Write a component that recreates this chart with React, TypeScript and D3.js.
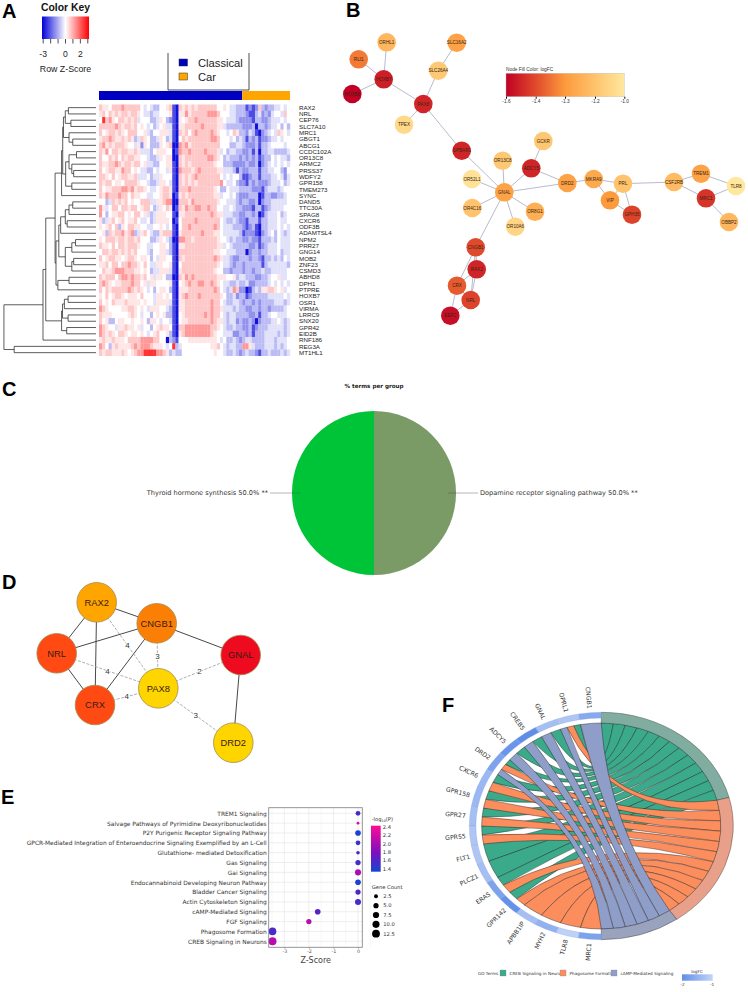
import { useEffect, useRef } from "react";
import * as d3 from "d3";

// Panel A: heatmap rows, one digit per sample, digit indexes heatLevels
const heatRows = [
  "RAX2", "NRL", "CEP76", "SLC7A10", "MRC1", "GBGT1", "ABCG1", "CCDC102A", "OR13C8", "ARMC2",
  "PRSS37", "WDFY2", "GPR158", "TMEM273", "SYNC", "DAND5", "TTC30A", "SPAG8", "CXCR6", "ODF3B",
  "ADAMTSL4", "NPM2", "PRR27", "GNG14", "MOB2", "ZNF23", "CSMD3", "ABHD8", "DPH1", "PTPRE",
  "HOXB7", "OSR1", "VIRMA", "LRRC9", "SNX20", "GPR42", "EID2B", "RNF186", "REG3A", "MT1HL1",
];
const heatLevels = [-2.8, -2.1, -1.3, -0.8, -0.35, 0, 0.3, 0.65, 1.2, 2.4];
const heatValues = [
  "76657 77877 77754 54335 56710 76767 67777 77556 54433 31212 73233 44545",
  "67576 76776 77654 43445 55610 66867 77778 88755 54433 32113 42324 55475",
  "59786 57767 67455 53346 53210 65677 87777 77665 44432 22213 32234 44545",
  "77777 87677 67565 45345 64410 66777 77877 77664 33333 22230 33234 45353",
  "75677 67657 77556 43556 66410 76757 87777 87655 45763 32431 02345 47654",
  "67787 66767 63476 53346 53410 57677 77777 88755 54534 31323 12234 45455",
  "78676 77765 54626 53336 56700 87867 77777 77755 53344 32223 13345 55545",
  "76857 76776 67644 43566 65501 87787 77787 77645 34433 22313 03344 33334",
  "75576 75767 76655 43346 56600 76777 77778 87653 43332 32323 12335 45443",
  "76677 87677 67756 44335 56610 76767 77777 76553 33222 23223 02345 45454",
  "75677 66877 56544 33545 54610 87776 78777 77664 44313 22333 13344 55325",
  "77657 56776 67444 53446 55510 76767 87777 77754 54553 11233 13334 45424",
  "76775 66577 77655 43346 65410 76767 67777 77785 44532 21323 22234 44534",
  "75667 77887 86776 54456 77610 77787 77777 76533 54443 33322 21344 43455",
  "76877 78775 76655 44556 77601 67677 77777 76645 54532 22333 01332 23345",
  "55347 67675 65577 74466 78800 77768 77777 77655 44432 33223 02334 44445",
  "86457 75776 77567 75346 57601 76877 88778 77554 45433 22213 31234 44455",
  "85356 67756 57756 43466 65510 66777 77777 87664 44332 23323 01344 45345",
  "63467 56756 67544 53466 66501 57777 87777 77754 33432 21333 13344 45445",
  "65675 73657 76655 44556 54510 57787 77777 78754 44333 21231 03344 45454",
  "56376 77867 83467 54336 77710 67777 77877 76654 44443 12221 02345 35434",
  "65777 67767 76755 53346 54300 88776 77777 77655 43433 22322 13334 35444",
  "76657 57767 77655 44556 65310 66777 77777 77664 54333 33223 12344 45444",
  "57767 76767 67555 43556 64310 77777 77777 76655 44433 30233 23344 45344",
  "75677 66567 76566 53546 65510 76777 77777 78764 43223 33233 21334 34354",
  "66757 75778 77657 54466 55610 57777 77777 77654 43233 23333 31344 44443",
  "57667 88877 76656 53446 66410 67777 77777 76553 32333 23323 34334 44445",
  "76777 57887 87767 56466 53300 76878 77777 77666 55634 43332 23345 56445",
  "78765 66777 87756 46655 55610 56787 78877 87654 43343 34223 33345 45454",
  "75767 77778 76765 45356 65310 66677 77777 78754 34872 20134 36677 65645",
  "65756 77656 66575 55466 56510 67877 78777 77765 33423 31233 33344 44454",
  "75657 66676 66656 55466 66410 66777 77777 87754 33443 23323 23333 44434",
  "87655 55667 76565 46665 54310 66777 77777 87764 44343 32233 23323 33345",
  "76665 55556 76545 53565 63310 56777 77787 87754 34433 33223 13345 54445",
  "75633 56655 65565 36654 55410 56677 77777 87664 34423 22320 23334 45434",
  "87655 46676 65645 53567 66510 77888 88888 77654 33433 22312 33344 44434",
  "87676 57765 66565 45675 56310 67888 88888 76554 44223 32313 33444 43434",
  "67667 66657 77788 88775 50321 55566 66666 66545 33432 34433 33444 34445",
  "87536 76666 78788 87666 54593 45555 55555 66754 34433 88643 33444 34345",
  "76776 66765 67889 99988 76343 35555 55555 56554 33432 34332 13343 33434",
];
const classicalSamples = 45;
const carSamples = 15;

// dendrogram: [height, left, right], leaves are row names
type Tree = string | [number, Tree, Tree];
const rowTree: Tree = [0.99,
  [0.57,
    [0.54,
      [0.44,
        [0.37,
          [0.358,
            [0.35,
              [0.33, [0.297, "RAX2", "NRL"], [0.27, "CEP76", "SLC7A10"]],
              [0.29, "MRC1", [0.25, "GBGT1", "ABCG1"]]],
            [0.326,
              [0.29, [0.21, "CCDC102A", "OR13C8"], [0.26, "ARMC2", [0.24, "PRSS37", "WDFY2"]]],
              [0.26, "GPR158", "TMEM273"]]],
          "SYNC"],
        [0.43,
          [0.4,
            [0.38, [0.33, [0.29, [0.25, "DAND5", "TTC30A"], "SPAG8"], [0.31, "CXCR6", "ODF3B"]], "ADAMTSL4"],
            [0.33, [0.26, [0.22, "NPM2", "PRR27"], "GNG14"], [0.26, [0.24, "MOB2", "ZNF23"], "CSMD3"]]],
          [0.41, [0.29, "ABHD8", "DPH1"], "PTPRE"]]],
      [0.37,
        [0.36, [0.34, [0.3, "HOXB7", "OSR1"], "VIRMA"], [0.3, "LRRC9", "SNX20"]],
        [0.315, "GPR42", "EID2B"]]],
    "RNF186"],
  [0.88, "REG3A", "MT1HL1"]];

// Panel B: network, layout units
const bNames = [
  "ORHL1", "RLI1", "HOXB7", "HOXB6", "SLC16A2", "SLC26A4", "PAX8", "TPEX", "GPBAR1", "GCKR", "OR13C8",
  "ADCY5", "OR52L1", "GNAL", "DRD2", "MKRA9", "PRL", "VIP", "GPH35", "CSF2RB", "TREM1", "MRC1", "TLR8",
  "OBBP2", "OR4C16", "OR8G1", "OR10A6", "CNGB1", "RAX2", "CRX", "NRL", "EEFC",
];
const bX = [41.7, 13.7, 38.7, 7.3, 111.7, 93.3, 78.3, 59, 116.7, 198.3, 157.7, 186.3, 127, 159.3, 222.3, 248.7, 278, 265, 287, 329, 356, 361, 391, 384, 127.3, 190, 170.3, 130.7, 131.7, 112, 125.7, 105.3];
const bY = [17.3, 34.3, 54.3, 69, 17.7, 45.7, 79, 99.7, 125.7, 116, 135.7, 143.3, 154, 167.3, 158, 154, 158.7, 175.3, 189.7, 157, 148.7, 173.3, 161, 197, 183, 186.7, 201.7, 222.3, 244.3, 260.7, 275, 290.7];
const bLogFC = [-1.23, -1.34, -1.52, -1.6, -1.28, -1.17, -1.5, -1.08, -1.5, -1.18, -1.18, -1.5, -1.03, -1.28, -1.28, -1.26, -1.2, -1.3, -1.42, -1.22, -1.28, -1.46, -1.0, -1.23, -1.2, -1.25, -1.1, -1.4, -1.5, -1.38, -1.42, -1.56];
const bEdges = [
  ["RLI1", "HOXB7"], ["ORHL1", "HOXB7"], ["HOXB6", "HOXB7"], ["HOXB7", "PAX8"], ["SLC16A2", "SLC26A4"], ["SLC26A4", "PAX8"],
  ["TPEX", "PAX8"], ["PAX8", "GPBAR1"], ["GPBAR1", "GNAL"], ["OR13C8", "GNAL"], ["OR52L1", "GNAL"], ["OR4C16", "GNAL"],
  ["OR8G1", "GNAL"], ["OR10A6", "GNAL"], ["ADCY5", "GNAL"], ["GCKR", "ADCY5"], ["ADCY5", "DRD2"], ["GNAL", "DRD2"],
  ["DRD2", "MKRA9"], ["MKRA9", "PRL"], ["MKRA9", "VIP"], ["PRL", "VIP"], ["PRL", "GPH35"], ["VIP", "GPH35"], ["PRL", "CSF2RB"],
  ["CSF2RB", "TREM1"], ["CSF2RB", "MRC1"], ["TREM1", "TLR8"], ["MRC1", "TLR8"], ["MRC1", "OBBP2"], ["GNAL", "CNGB1"],
  ["CNGB1", "RAX2"], ["CNGB1", "CRX"], ["CNGB1", "NRL"], ["RAX2", "CRX"], ["RAX2", "NRL"], ["CRX", "NRL"], ["CRX", "EEFC"], ["NRL", "EEFC"],
];
const bLegendTicks = [-1.6, -1.4, -1.3, -1.2, -1.0];
const bLegendColors = ["#c00024", "#e04a2c", "#fd9a3c", "#fec36c", "#ffe89e"];

// Panel C
const pieLabels = ["Dopamine receptor signaling pathway 50.0% **", "Thyroid hormone synthesis 50.0% **"];
const pieValues = [50, 50];
const pieColors = ["#7a9a66", "#00c437"];

// Panel D
const dNames = ["RAX2", "CNGB1", "GNAL", "NRL", "PAX8", "CRX", "DRD2"];
const dX = [56.7, 116.7, 200.7, 16.7, 118.3, 55, 193.3];
const dY = [12.3, 33.3, 65, 63.3, 98.3, 115, 152.7];
const dColors = ["#ffa500", "#fb7f05", "#ee0a1f", "#ff4a14", "#ffd500", "#ff4a14", "#ffd500"];
const dSolid = [
  ["RAX2", "NRL"], ["RAX2", "CNGB1"], ["RAX2", "CRX"], ["NRL", "CNGB1"], ["NRL", "CRX"], ["CNGB1", "CRX"], ["CNGB1", "GNAL"], ["GNAL", "DRD2"],
];
const dDashed: [string, string, number][] = [
  ["RAX2", "PAX8", 4], ["NRL", "PAX8", 4], ["CRX", "PAX8", 4], ["CNGB1", "PAX8", 3], ["GNAL", "PAX8", 2], ["PAX8", "DRD2", 3],
];

// Panel E
const ePathways = [
  "TREM1 Signaling", "Salvage Pathways of Pyrimidine Deoxyribonucleotides", "P2Y Purigenic Receptor Signaling Pathway",
  "GPCR-Mediated Integration of Enteroendocrine Signaling Exemplified by an L-Cell", "Glutathione- mediated Detoxification",
  "Gas Signaling", "Gai Signaling", "Endocannabinoid Developing Neuron Pathway", "Bladder Cancer Signaling",
  "Actin Cytoskeleton Signaling", "cAMP-Mediated Signaling", "FGF Signaling", "Phagosome Formation", "CREB Signaling in Neurons",
];
const eZScores = [0, 0, 0, 0, 0, 0, 0, 0, 0, 0, -1.64, -2, -3.48, -3.48];
const eLogP = [1.55, 2.3, 1.4, 1.5, 1.6, 1.55, 2.05, 1.4, 1.6, 1.55, 1.65, 2.1, 1.6, 2.1];
const eCounts = [4, 1, 6, 4, 2, 5, 7, 6, 5, 7, 6, 5, 12, 13];
const eLogPTicks = [2.4, 2.2, 2.0, 1.8, 1.6, 1.4];
const eCountTicks = [2.5, 5, 7.5, 10, 12.5];

// Panel F
const fGenes = [
  "CNGB1", "OPRL1", "GNAL", "CREB5", "ADCY5", "DRD2", "CXCR6", "GPR158", "GPR27", "GPR55", "FLT1", "PLCZ1", "ERAS", "GPR142",
  "APBB1IP", "MYH2", "TLR8", "MRC1",
];
const fGeneLogFC = [-1.6, -1.2, -1.3, -2, -1.9, -1.7, -1.4, -1.4, -1.3, -1.2, -1.2, -1.3, -1.7, -1.95, -1.3, -1.5, -1.05, -1.7];
// term letters per gene: C = CREB, P = Phagosome, A = cAMP
const fGeneTerms = ["A", "CPA", "CA", "CA", "CA", "CPA", "CP", "CP", "CP", "CP", "C", "C", "CP", "CP", "P", "P", "P", "P"];
const fTerms = ["C", "P", "A"];
const fTermNames = ["CREB Signaling in Neurons", "Phagosome Formation", "cAMP-Mediated Signaling"];
const fTermColors = ["#3aaa8b", "#fc8d5c", "#8f9dc9"];
const fRingColors = ["#80ada0", "#e8a08a", "#99a3bd"];

const ARIAL = "'Liberation Sans', Arial, sans-serif";
const VERDANA = "'DejaVu Sans', Verdana, sans-serif";

const App = () => {
  const svgRef = useRef<SVGSVGElement>(null);

  useEffect(() => {
    if (!svgRef.current) return;
    const svg = d3.select(svgRef.current);
    svg.selectAll("*").remove();
    const defs = svg.append("defs");

    const letter = (t: string, x: number, y: number) =>
      svg.append("text").attr("x", x).attr("y", y).text(t)
        .attr("font-family", ARIAL).attr("font-weight", "bold").attr("font-size", 20).attr("fill", "#000");
    letter("A", 2, 18);
    letter("B", 346, 17);
    letter("C", 2, 396);
    letter("D", 2, 589);
    letter("E", 1, 804);
    letter("F", 442, 712);

    const gradient = (id: string, stops: [number, string][], vertical = false) => {
      const g = defs.append("linearGradient").attr("id", id)
        .attr("x1", 0).attr("y1", 0).attr("x2", vertical ? 0 : 1).attr("y2", vertical ? 1 : 0);
      stops.forEach(([o, c]) => g.append("stop").attr("offset", o).attr("stop-color", c));
    };

    // ---- Panel A
    const heatColor = d3.scaleLinear<string>().domain([-3, 0, 3]).range(["#0000d8", "#ffffff", "#ff0000"]);
    const sampleCount = classicalSamples + carSamples;
    const colX = d3.scaleBand<number>().domain(d3.range(sampleCount)).range([99, 290]);
    const rowY = d3.scaleBand<string>().domain(heatRows).range([104.5, 355.8]);
    const cells = heatValues.flatMap((s, r) =>
      s.replace(/ /g, "").split("").map((ch, c) => ({ r, c, z: heatLevels[+ch] })));
    svg.append("g").selectAll("rect").data(cells).join("rect")
      .attr("x", (d) => colX(d.c)!)
      .attr("y", (d) => rowY(heatRows[d.r])!)
      .attr("width", colX.bandwidth() + 0.2)
      .attr("height", rowY.bandwidth() + 0.2)
      .attr("fill", (d) => heatColor(d.z));
    svg.append("rect").attr("x", colX(0)!).attr("y", 91).attr("height", 9)
      .attr("width", colX.bandwidth() * classicalSamples).attr("fill", "#0000c0");
    svg.append("rect").attr("x", colX(classicalSamples)!).attr("y", 91).attr("height", 9)
      .attr("width", colX.bandwidth() * carSamples).attr("fill", "#ffa500");
    svg.append("g").selectAll("text").data(heatRows).join("text")
      .attr("x", 299)
      .attr("y", (d) => rowY(d)! + rowY.bandwidth() / 2 + 2.2)
      .text((d) => d)
      .attr("font-family", ARIAL).attr("font-size", 6.2).attr("fill", "#222");

    const dendroX = d3.scaleLinear().domain([0, 1]).range([96, 3]);
    const dendro = d3.path();
    const walk = (t: Tree): { y: number; h: number } => {
      if (typeof t === "string") return { y: rowY(t)! + rowY.bandwidth() / 2, h: 0 };
      const a = walk(t[1]);
      const b = walk(t[2]);
      dendro.moveTo(dendroX(a.h), a.y);
      dendro.lineTo(dendroX(t[0]), a.y);
      dendro.lineTo(dendroX(t[0]), b.y);
      dendro.lineTo(dendroX(b.h), b.y);
      return { y: (a.y + b.y) / 2, h: t[0] };
    };
    walk(rowTree);
    svg.append("path").attr("d", dendro.toString()).attr("fill", "none").attr("stroke", "#333").attr("stroke-width", 0.8);

    // colour key
    gradient("heatKey", d3.range(0, 1.01, 0.1).map((t) => [t, heatColor(-3 + t * 6)] as [number, string]));
    svg.append("rect").attr("x", 42).attr("y", 16.5).attr("width", 47).attr("height", 22.5).attr("fill", "url(#heatKey)");
    const keyX = d3.scaleLinear().domain([-3, 3]).range([42.7, 87.3]);
    const keyAxis = svg.append("g").attr("transform", "translate(0,39)")
      .call(d3.axisBottom(keyX).tickValues(d3.range(-3, 4)).tickSize(4.5).tickPadding(7)
        .tickFormat((d) => ([-3, 0, 2].includes(+d) ? String(d) : "")));
    keyAxis.select(".domain").remove();
    keyAxis.selectAll("text").attr("font-family", ARIAL).attr("font-size", 8.6).attr("fill", "#222");
    keyAxis.selectAll("line").attr("stroke", "#222").attr("stroke-width", 0.8);
    svg.append("text").attr("x", 65.5).attr("y", 11).attr("text-anchor", "middle").text("Color Key")
      .attr("font-family", ARIAL).attr("font-weight", "bold").attr("font-size", 10.4).attr("fill", "#111");
    svg.append("text").attr("x", 65.5).attr("y", 72).attr("text-anchor", "middle").text("Row Z-Score")
      .attr("font-family", ARIAL).attr("font-size", 8.8).attr("fill", "#222");

    // group legend
    svg.append("path").attr("d", "M168,53V90H249V53").attr("fill", "none").attr("stroke", "#222").attr("stroke-width", 0.8);
    ([["Classical", "#0000c0", 63], ["Car", "#ffa500", 77]] as [string, string, number][]).forEach(([t, c, y]) => {
      svg.append("rect").attr("x", 179).attr("y", y - 4).attr("width", 8.5).attr("height", 7)
        .attr("fill", c).attr("stroke", "#333").attr("stroke-width", 0.5);
      svg.append("text").attr("x", 198).attr("y", y + 4).text(t)
        .attr("font-family", ARIAL).attr("font-size", 11.2).attr("fill", "#222");
    });

    // ---- Panel B
    const bPosX = d3.scaleLinear().domain([0, 400]).range([345, 745]);
    const bPosY = d3.scaleLinear().domain([0, 300]).range([25, 325]);
    const bIndex = new Map(bNames.map((n, i) => [n, i]));
    const bColor = d3.scaleLinear<string>().domain(bLegendTicks).range(bLegendColors).clamp(true);
    svg.append("g").selectAll("line").data(bEdges).join("line")
      .attr("x1", (d) => bPosX(bX[bIndex.get(d[0])!]))
      .attr("y1", (d) => bPosY(bY[bIndex.get(d[0])!]))
      .attr("x2", (d) => bPosX(bX[bIndex.get(d[1])!]))
      .attr("y2", (d) => bPosY(bY[bIndex.get(d[1])!]))
      .attr("stroke", "#aeb4c8").attr("stroke-width", 0.9);
    const bNode = svg.append("g").selectAll("g").data(bNames).join("g")
      .attr("transform", (_, i) => `translate(${bPosX(bX[i])},${bPosY(bY[i])})`);
    bNode.append("circle").attr("r", 9.3).attr("fill", (_, i) => bColor(bLogFC[i]));
    bNode.append("text").attr("text-anchor", "middle").attr("y", 1.6).text((d) => d)
      .attr("font-family", ARIAL).attr("font-size", 4.6).attr("fill", "#3a2410");
    const bLegendX = d3.scaleLinear().domain(bLegendTicks).range([506, 535.7, 565, 595, 624.3]);
    gradient("bLegend", bLegendTicks.map((v) => [(bLegendX(v) - 506) / 118.3, bColor(v)] as [number, string]));
    svg.append("rect").attr("x", 506).attr("y", 73.3).attr("width", 118.3).attr("height", 23.4)
      .attr("fill", "url(#bLegend)").attr("stroke", "#bbb").attr("stroke-width", 0.4);
    const bAxis = svg.append("g").attr("transform", "translate(0,96.7)")
      .call(d3.axisBottom(bLegendX).tickValues(bLegendTicks).tickSize(2).tickPadding(1)
        .tickFormat((d) => (+d).toFixed(1)));
    bAxis.select(".domain").remove();
    bAxis.selectAll("text").attr("font-family", ARIAL).attr("font-size", 4.8).attr("fill", "#333");
    svg.append("text").attr("x", 506).attr("y", 71).text("Node Fill Color:  logFC")
      .attr("font-family", ARIAL).attr("font-size", 4.8).attr("fill", "#333");

    // ---- Panel C
    const pieG = svg.append("g").attr("transform", "translate(374,493)");
    const pieArc = d3.arc<d3.PieArcDatum<number>>().innerRadius(0).outerRadius(82);
    pieG.selectAll("path").data(d3.pie<number>().sort(null)(pieValues)).join("path")
      .attr("d", pieArc).attr("fill", (_, i) => pieColors[i]);
    pieG.selectAll("line").data([1, -1]).join("line")
      .attr("x1", (d) => d * 74).attr("x2", (d) => d * 104).attr("y1", 0).attr("y2", 0)
      .attr("stroke", "#555").attr("stroke-opacity", 0.6).attr("stroke-width", 0.7);
    pieG.selectAll("text").data(pieLabels).join("text")
      .attr("x", (_, i) => (i === 0 ? 106 : -106))
      .attr("y", 2)
      .attr("text-anchor", (_, i) => (i === 0 ? "start" : "end"))
      .text((d) => d)
      .attr("font-family", VERDANA).attr("font-size", 6.6).attr("fill", "#333");
    svg.append("text").attr("x", 374).attr("y", 388).attr("text-anchor", "middle").text("% terms per group")
      .attr("font-family", VERDANA).attr("font-weight", "bold").attr("font-size", 5.6).attr("fill", "#222");

    // ---- Panel D
    const dPosX = d3.scaleLinear().domain([0, 250]).range([40, 290]);
    const dPosY = d3.scaleLinear().domain([0, 200]).range([590, 790]);
    const dIndex = new Map(dNames.map((n, i) => [n, i]));
    const dxOf = (n: string) => dPosX(dX[dIndex.get(n)!]);
    const dyOf = (n: string) => dPosY(dY[dIndex.get(n)!]);
    svg.append("g").selectAll("line").data(dSolid).join("line")
      .attr("x1", (d) => dxOf(d[0])).attr("y1", (d) => dyOf(d[0]))
      .attr("x2", (d) => dxOf(d[1])).attr("y2", (d) => dyOf(d[1]))
      .attr("stroke", "#333").attr("stroke-width", 0.9);
    svg.append("g").selectAll("line").data(dDashed).join("line")
      .attr("x1", (d) => dxOf(d[0])).attr("y1", (d) => dyOf(d[0]))
      .attr("x2", (d) => dxOf(d[1])).attr("y2", (d) => dyOf(d[1]))
      .attr("stroke", "#999").attr("stroke-width", 0.8).attr("stroke-dasharray", "3 1.5");
    svg.append("g").selectAll("text").data(dDashed).join("text")
      .attr("x", (d) => (dxOf(d[0]) + dxOf(d[1])) / 2)
      .attr("y", (d) => (dyOf(d[0]) + dyOf(d[1])) / 2 + 2.8)
      .attr("text-anchor", "middle").text((d) => d[2])
      .attr("font-family", ARIAL).attr("font-size", 8).attr("fill", "#333")
      .attr("paint-order", "stroke").attr("stroke", "#fff").attr("stroke-width", 1.5);
    const dNode = svg.append("g").selectAll("g").data(dNames).join("g")
      .attr("transform", (d) => `translate(${dxOf(d)},${dyOf(d)})`);
    dNode.append("circle").attr("r", 19.8).attr("fill", (_, i) => dColors[i])
      .attr("stroke", "#a58a50").attr("stroke-width", 0.8);
    dNode.append("text").attr("text-anchor", "middle").attr("y", 3.3).text((d) => d)
      .attr("font-family", ARIAL).attr("font-size", 9.4).attr("fill", "#3a1a10");

    // ---- Panel E
    const eX = d3.scaleLinear().domain([-3, 0]).range([284.3, 358]);
    const eY = d3.scalePoint<string>().domain(ePathways).range([813.3, 941.3]);
    const eColor = d3.scaleLinear<string>().domain([1.4, 1.8, 2.4]).range(["#1e40d0", "#7a10c0", "#f50a9a"]);
    const eR = d3.scaleSqrt().domain([1, 12.5]).range([1.4, 3.9]);
    const eBox = { x0: 268.7, x1: 362.3, y0: 807.7, y1: 947.3 };
    const eGrid = svg.append("g");
    d3.range(-3.5, 0.51, 0.5).filter((v) => eX(v) > eBox.x0).forEach((v) => {
      eGrid.append("line").attr("x1", eX(v)).attr("x2", eX(v)).attr("y1", eBox.y0).attr("y2", eBox.y1)
        .attr("stroke", Number.isInteger(v) ? "#e2e2e2" : "#f1f1f1").attr("stroke-width", 0.6);
    });
    ePathways.forEach((p) => {
      eGrid.append("line").attr("x1", eBox.x0).attr("x2", eBox.x1).attr("y1", eY(p)!).attr("y2", eY(p)!)
        .attr("stroke", "#e2e2e2").attr("stroke-width", 0.6);
    });
    svg.append("g").selectAll("circle").data(ePathways).join("circle")
      .attr("cx", (_, i) => eX(eZScores[i]))
      .attr("cy", (d) => eY(d)!)
      .attr("r", (_, i) => eR(eCounts[i]))
      .attr("fill", (_, i) => eColor(eLogP[i]));
    svg.append("rect").attr("x", eBox.x0).attr("y", eBox.y0).attr("width", eBox.x1 - eBox.x0).attr("height", eBox.y1 - eBox.y0)
      .attr("fill", "none").attr("stroke", "#8a8a8a").attr("stroke-width", 0.9);
    const eLeft = svg.append("g").attr("transform", `translate(${eBox.x0},0)`)
      .call(d3.axisLeft(eY).tickSize(0).tickPadding(2));
    eLeft.select(".domain").remove();
    eLeft.selectAll("text").attr("font-family", VERDANA).attr("font-size", 5.9).attr("fill", "#333");
    const eBottom = svg.append("g").attr("transform", `translate(0,${eBox.y1})`)
      .call(d3.axisBottom(eX).tickValues([-3, -2, -1, 0]).tickSize(1.5).tickPadding(1).tickFormat((d) => String(d)));
    eBottom.select(".domain").remove();
    eBottom.selectAll("line").attr("stroke", "#777").attr("stroke-width", 0.5);
    eBottom.selectAll("text").attr("font-family", VERDANA).attr("font-size", 4.8).attr("fill", "#555");
    svg.append("text").attr("x", 315.7).attr("y", 962.5).attr("text-anchor", "middle").text("Z-Score")
      .attr("font-family", VERDANA).attr("font-size", 8).attr("fill", "#444");

    const logPTitle = svg.append("text").attr("x", 371.7).attr("y", 821)
      .attr("font-family", VERDANA).attr("font-size", 5.2).attr("fill", "#333");
    logPTitle.append("tspan").text("-log");
    logPTitle.append("tspan").text("10").attr("font-size", 3.4).attr("dy", 1.2);
    logPTitle.append("tspan").text("(P)").attr("dy", -1.2);
    const logPY = d3.scaleLinear().domain([1.4, 2.4]).range([869, 827]);
    gradient("logPBar", d3.range(0, 1.01, 0.1).map((t) => [t, eColor(2.45 - t * 1.1)] as [number, string]), true);
    svg.append("rect").attr("x", 371).attr("y", 825.7).attr("width", 9.7).attr("height", 46).attr("fill", "url(#logPBar)");
    svg.append("g").selectAll("text").data(eLogPTicks).join("text")
      .attr("x", 382.7).attr("y", (d) => logPY(d) + 1.8).text((d) => d.toFixed(1))
      .attr("font-family", VERDANA).attr("font-size", 5.2).attr("fill", "#333");
    svg.append("text").attr("x", 371.7).attr("y", 888.5).text("Gene Count")
      .attr("font-family", VERDANA).attr("font-size", 5.2).attr("fill", "#333");
    const countY = d3.scalePoint<number>().domain(eCountTicks).range([896.3, 933.7]);
    svg.append("g").selectAll("circle").data(eCountTicks).join("circle")
      .attr("cx", 376).attr("cy", (d) => countY(d)!).attr("r", (d) => eR(d)).attr("fill", "#000");
    svg.append("g").selectAll("text").data(eCountTicks).join("text")
      .attr("x", 383.3).attr("y", (d) => countY(d)! + 1.8).text((d) => d.toFixed(1))
      .attr("font-family", VERDANA).attr("font-size", 5.2).attr("fill", "#333");

    // ---- Panel F
    const fR = 132;
    const fInner = fR * 0.906;
    const fGeneInner = fR * 0.95;
    const fCx = 601.3;
    const fCy = 826;
    const fYScale = 113.7 / 132;
    const fG = svg.append("g").attr("transform", `translate(${fCx},${fCy}) scale(1,${fYScale})`);
    const fLinks = fGeneTerms.flatMap((terms, g) => terms.split("").map((term, j) => ({ g, j, n: terms.length, term })));
    const fGeneAngle = d3.scaleLinear().domain([0, fGenes.length]).range([0, -Math.PI]);
    const fSlot = d3.scaleLinear().domain([0, fLinks.length]).range([0, Math.PI]);
    const fChords: { t: number; a0: number; a1: number; t0: number; t1: number }[] = [];
    const fTermSpans: { start: number; end: number }[] = [];
    let slot = 0;
    fTerms.forEach((term, t) => {
      const start = slot;
      fLinks.filter((l) => l.term === term).forEach((l) => {
        fChords.push({
          t,
          a0: fGeneAngle(l.g + l.j / l.n),
          a1: fGeneAngle(l.g + (l.j + 1) / l.n),
          t0: fSlot(slot),
          t1: fSlot(slot + 1),
        });
        slot += 1;
      });
      fTermSpans.push({ start: fSlot(start), end: fSlot(slot) });
    });
    // ribbon with a control point per edge, so a band keeps some width past the centre
    const fPoint = (a: number): [number, number] => [fInner * Math.sin(a), -fInner * Math.cos(a)];
    const fCtrl = (p: [number, number], q: [number, number]): [number, number] => [0.2 * (p[0] + q[0]) / 2, 0.2 * (p[1] + q[1]) / 2];
    const fRibbon = (d: { a0: number; a1: number; t0: number; t1: number }) => {
      const path = d3.path();
      const [pa0, pa1, pt0, pt1] = [fPoint(d.a0), fPoint(d.a1), fPoint(d.t0), fPoint(d.t1)];
      path.moveTo(pa0[0], pa0[1]);
      path.arc(0, 0, fInner, d.a0 - Math.PI / 2, d.a1 - Math.PI / 2, true);
      const c1 = fCtrl(pa1, pt1);
      path.quadraticCurveTo(c1[0], c1[1], pt1[0], pt1[1]);
      path.arc(0, 0, fInner, d.t1 - Math.PI / 2, d.t0 - Math.PI / 2, true);
      const c2 = fCtrl(pt0, pa0);
      path.quadraticCurveTo(c2[0], c2[1], pa0[0], pa0[1]);
      path.closePath();
      return path.toString();
    };
    fG.append("g").selectAll("path").data(fChords).join("path")
      .attr("d", fRibbon)
      .attr("fill", (d) => fTermColors[d.t])
      .attr("stroke", "#1c1c1c").attr("stroke-width", 0.45);
    const termArc = d3.arc<{ start: number; end: number }>()
      .innerRadius(fInner).outerRadius(fR).startAngle((d) => d.start).endAngle((d) => d.end);
    fG.append("g").selectAll("path").data(fTermSpans).join("path")
      .attr("d", termArc).attr("fill", (_, i) => fRingColors[i]).attr("stroke", "#222").attr("stroke-width", 0.4);
    const fLogFC = d3.scaleLinear<string>().domain([-2, -1]).range(["#5f8ee8", "#c3d4f8"]);
    const geneArc = d3.arc<string>().innerRadius(fGeneInner).outerRadius(fR)
      .startAngle((_, i) => fGeneAngle(i + 1)).endAngle((_, i) => fGeneAngle(i));
    fG.append("g").selectAll("path").data(fGenes).join("path")
      .attr("d", geneArc as any).attr("fill", (_, i) => fLogFC(fGeneLogFC[i]))
      .attr("stroke", "#7f9bd8").attr("stroke-width", 0.3);
    svg.append("g").selectAll("text").data(fGenes).join("text")
      .attr("text-anchor", "end")
      .attr("transform", (_, i) => {
        const theta = -fGeneAngle(i + 0.5);
        const x = fCx - (fR + 4) * Math.sin(theta);
        const y = fCy - (fR * fYScale + 4) * Math.cos(theta);
        return `translate(${x},${y}) rotate(${90 - (theta * 180) / Math.PI})`;
      })
      .attr("dy", 2)
      .text((d) => d)
      .attr("font-family", VERDANA).attr("font-size", 6.2).attr("fill", "#333");

    const fLegendFont = { family: VERDANA, size: 4.2 };
    svg.append("text").attr("x", 478).attr("y", 974.5).text("GO Terms")
      .attr("font-family", fLegendFont.family).attr("font-size", fLegendFont.size).attr("fill", "#333");
    const fSwatchX = d3.scaleOrdinal<string, number>().domain(fTermNames).range([500, 560, 611]);
    fTermNames.forEach((name, i) => {
      svg.append("rect").attr("x", fSwatchX(name)).attr("y", 970).attr("width", 6).attr("height", 6)
        .attr("fill", fTermColors[i]).attr("stroke", "#888").attr("stroke-width", 0.3);
      svg.append("text").attr("x", fSwatchX(name) + 9.5).attr("y", 974.5).text(name)
        .attr("font-family", fLegendFont.family).attr("font-size", fLegendFont.size).attr("fill", "#333");
    });
    svg.append("text").attr("x", 697).attr("y", 972.5).attr("text-anchor", "middle").text("logFC")
      .attr("font-family", fLegendFont.family).attr("font-size", fLegendFont.size).attr("fill", "#333");
    gradient("fLogFCBar", [[0, fLogFC(-2)], [1, fLogFC(-1)]]);
    svg.append("rect").attr("x", 682).attr("y", 974.3).attr("width", 30.7).attr("height", 6.4).attr("fill", "url(#fLogFCBar)");
    const fAxisX = d3.scaleLinear().domain([-2, -1]).range([682.5, 712]);
    svg.append("g").selectAll("text").data([-2, -1]).join("text")
      .attr("x", (d) => fAxisX(d)).attr("y", 986).attr("text-anchor", "middle").text((d) => String(d))
      .attr("font-family", fLegendFont.family).attr("font-size", fLegendFont.size).attr("fill", "#333");
  }, []);

  return (
    <div style={{ position: "absolute", left: 0, top: 0 }}>
      <svg ref={svgRef} width={748} height={992} style={{ display: "block", background: "#fff" }} />
    </div>
  );
};

export default App;
